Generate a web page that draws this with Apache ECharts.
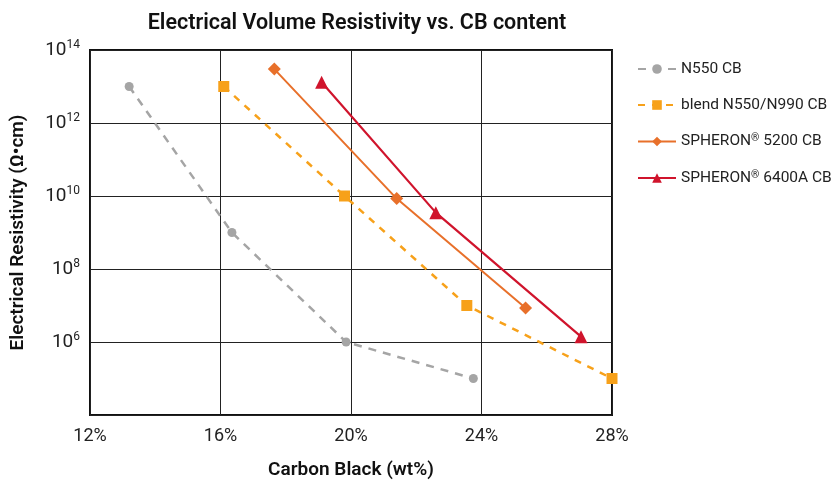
<!DOCTYPE html>
<html><head><meta charset="utf-8">
<script src="https://cdn.jsdelivr.net/npm/echarts@6/dist/echarts.min.js"></script>
<style>html,body{margin:0;padding:0;background:#fff}#c{width:840px;height:485px}</style>
</head><body><div id="c"></div>
<script>
const seriesNames = ['N550 CB', 'blend N550/N990 CB', 'SPHERON® 5200 CB', 'SPHERON® 6400A CB'];
const n550X = [13.2, 16.35, 19.85, 23.75];
const n550Y = [1e13, 1e9, 1e6, 1e5];
const blendX = [16.1, 19.8, 23.55, 28.0];
const blendY = [1e13, 1e10, 1e7, 1e5];
const s5200X = [17.65, 21.4, 25.35];
const s5200Y = [3e13, 8.5e9, 8.5e6];
const s6400X = [19.1, 22.6, 27.05];
const s6400Y = [1.3e13, 3.5e9, 1.4e6];
const xTicks = [12, 16, 20, 24, 28];
const yTickExps = [6, 8, 10, 12, 14];

const pair = (xs, ys) => xs.map((x, i) => [x, ys[i]]);
const FONT = 'Roboto';

const chart = echarts.init(document.getElementById('c'), null, {renderer: 'canvas'});
chart.setOption({
  backgroundColor: '#fff',
  animation: false,
  title: {
    text: 'Electrical Volume Resistivity vs. CB content',
    left: 352, top: 8, textAlign: 'center',
    textStyle: {fontFamily: FONT, fontSize: 21.5, fontWeight: 600, color: '#111'}
  },
  legend: {
    orient: 'vertical', left: 632, top: 56, itemGap: 20,
    itemWidth: 38, itemHeight: 12,
    data: seriesNames,
    formatter: n => n.replace('®', '{sup|®}'),
    textStyle: {fontFamily: FONT, fontSize: 15.5, color: '#222',
      rich: {sup: {fontSize: 10.5, verticalAlign: 'top', padding: [0,0,6,0], fontFamily: FONT, color: '#222'}}}
  },
  grid: {left: 90, right: 228, top: 50, bottom: 68, show: true, borderColor: '#111', borderWidth: 2},
  xAxis: {
    type: 'value', min: xTicks[0], max: xTicks[xTicks.length - 1], interval: 4,
    name: 'Carbon Black (wt%)', nameLocation: 'middle', nameGap: 46,
    nameTextStyle: {fontFamily: FONT, fontSize: 19, fontWeight: 600, color: '#111'},
    axisLine: {show: false}, axisTick: {show: false},
    axisLabel: {formatter: '{value}%', fontFamily: FONT, fontSize: 18, color: '#222', margin: 12},
    splitLine: {show: true, lineStyle: {color: '#222', width: 1}}
  },
  yAxis: {
    type: 'log', logBase: 10, min: 1e4, max: 1e14, interval: 2,
    name: 'Electrical Resistivity (Ω•cm)', nameLocation: 'middle', nameGap: 62, nameRotate: 90,
    nameTextStyle: {fontFamily: FONT, fontSize: 19, fontWeight: 600, color: '#111'},
    axisLine: {show: false}, axisTick: {show: false},
    axisLabel: {
      fontFamily: FONT, fontSize: 19, color: '#222', margin: 10,
      formatter: v => {
        const e = Math.round(Math.log10(v));
        if (yTickExps.indexOf(e) < 0) return '';
        return '10{s|' + e + '}';
      },
      rich: {s: {fontSize: 12, verticalAlign: 'top', padding: [0,0,10,0], fontFamily: FONT, color: '#222'}}
    },
    splitLine: {show: true, lineStyle: {color: '#222', width: 1}}
  },
  series: [
    {name: seriesNames[0], type: 'line', data: pair(n550X, n550Y), symbol: 'circle', symbolSize: 9,
     itemStyle: {color: '#A5A5A5'}, lineStyle: {color: '#A5A5A5', width: 2.5, type: [8, 7]}, z: 3},
    {name: seriesNames[1], type: 'line', data: pair(blendX, blendY), symbol: 'rect', symbolSize: 11,
     itemStyle: {color: '#F7A11A'}, lineStyle: {color: '#F7A11A', width: 2.5, type: [7, 7]}, z: 4},
    {name: seriesNames[2], type: 'line', data: pair(s5200X, s5200Y), symbol: 'diamond', symbolSize: 13,
     itemStyle: {color: '#E8702A'}, lineStyle: {color: '#E8702A', width: 2}, z: 5},
    {name: seriesNames[3], type: 'line', data: pair(s6400X, s6400Y), symbol: 'triangle', symbolSize: 13,
     itemStyle: {color: '#D0142C'}, lineStyle: {color: '#D0142C', width: 2.2}, z: 6}
  ]
});
</script></body></html>
